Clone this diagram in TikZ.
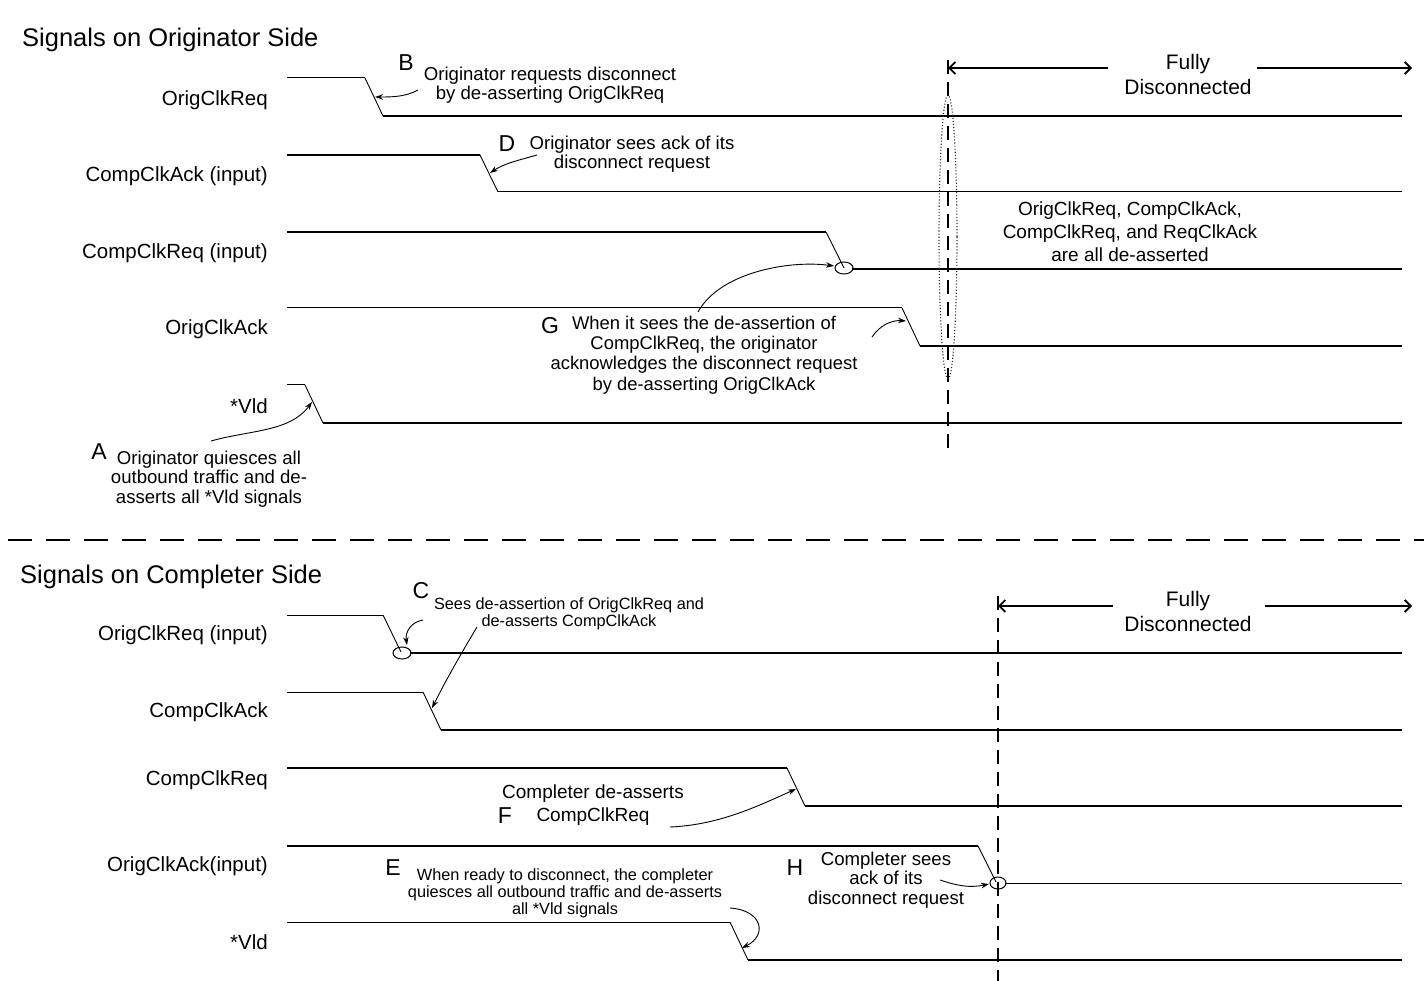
\documentclass[tikz,border=0pt]{standalone}
\usepackage{fontspec}
\setmainfont{Liberation Sans}
\usetikzlibrary{arrows.meta}
\begin{document}
\begin{tikzpicture}[x=1pt,y=-1pt,
  thn/.style={line width=1pt},
  thk/.style={line width=2pt},
  slant/.style={line width=0.9pt},
  lbl/.style={font=\fontsize{20.5}{24}\selectfont, anchor=east, inner sep=0},
  ttl/.style={font=\fontsize{25.5}{28}\selectfont, anchor=west, inner sep=0},
  ann/.style={font=\fontsize{18.6}{19.4}\selectfont, align=center, inner sep=0},
  annline/.style={font=\fontsize{18.4}{19.4}\selectfont, anchor=base, inner sep=0},
  annw/.style={font=\fontsize{19}{23}\selectfont, align=center, inner sep=0},
  sml/.style={font=\fontsize{16.3}{17.2}\selectfont, align=center, inner sep=0},
  letter/.style={font=\fontsize{23}{23}\selectfont, inner sep=0},
  fd/.style={font=\fontsize{21}{25}\selectfont, align=center, inner sep=0},
  callout/.style={-{Stealth[length=8pt,width=5.5pt]}, line width=0.9pt},
  span/.style={line width=1.8pt},
  vdash/.style={line width=2pt, dash pattern=on 14pt off 8pt}
]
\useasboundingbox (0,0) rectangle (1424,981);

% ---------- Titles ----------
\node[ttl] (t1) at (22,40) {Signals on Originator Side};
\node[ttl] (t2) at (20,577) {Signals on Completer Side};

% ---------- Originator side labels ----------
\node[lbl] (l1) at (268,100) {OrigClkReq};
\node[lbl] (l2) at (268,176) {CompClkAck (input)};
\node[lbl] (l3) at (268,253) {CompClkReq (input)};
\node[lbl] (l4) at (268,329) {OrigClkAck};
\node[lbl] (l5) at (268,406) {*Vld};

% ---------- Originator side waveforms ----------
\draw[thn] (287,78) -- (365,78);
\draw[slant] (365,78) -- (383,116);
\draw[thk] (383,116) -- (1402,116);

\draw[thk] (287,155) -- (480,155);
\draw[slant] (480,155) -- (498,192);
\draw[thn] (498,192) -- (1402,192);

\draw[thk] (287,232) -- (826,232);
\draw[slant] (826,232) -- (844,268);
\draw[thk] (852,269) -- (1402,269);
\draw[thn] (844,268) ellipse [x radius=9, y radius=6];

\draw[thn] (287,308) -- (902,308);
\draw[slant] (902,308) -- (920,346);
\draw[thk] (920,346) -- (1402,346);

\draw[thn] (287,385) -- (305,385);
\draw[slant] (305,385) -- (323,423);
\draw[thk] (323,423) -- (1402,423);

% ---------- Completer side labels ----------
\node[lbl] (m1) at (268,635) {OrigClkReq (input)};
\node[lbl] (m2) at (268,712) {CompClkAck};
\node[lbl] (m3) at (268,780) {CompClkReq};
\node[lbl] (m4) at (268,866) {OrigClkAck(input)};
\node[lbl] (m5) at (268,942) {*Vld};

% ---------- Completer side waveforms ----------
\draw[thn] (287,615) -- (383,615);
\draw[slant] (383,615) -- (401,652);
\draw[thk] (410,653) -- (1402,653);
\draw[thn] (402,653) ellipse [x radius=9, y radius=6];

\draw[thn] (287,692) -- (423,692);
\draw[slant] (423,692) -- (441,730);
\draw[thk] (441,730) -- (1402,730);

\draw[thk] (287,768) -- (787,768);
\draw[slant] (787,768) -- (805,806);
\draw[thk] (805,806) -- (1402,806);

\draw[thk] (287,846) -- (978,846);
\draw[slant] (978,846) -- (996,882);
\draw[thn] (1005,883) -- (1402,883);
\draw[thn] (998,883) ellipse [x radius=8, y radius=6];

\draw[thn] (287,922) -- (730,922);
\draw[slant] (730,922) -- (748,960);
\draw[thk] (748,960) -- (1402,960);

% ---------- Separator ----------
\draw[line width=2pt, dash pattern=on 24pt off 14pt] (8,540) -- (1424,540);

% ---------- Vertical dashed lines ----------
\coordinate (v1t) at (948,60);
\coordinate (v1b) at (948,452);
\draw[vdash] (v1t) -- (v1b);
\coordinate (v2t) at (998,596);
\coordinate (v2b) at (998,981);
\draw[vdash] (v2t) -- (v2b);

% dotted ellipse
\draw[line width=1.1pt, dotted, black!85] (948,237) ellipse [x radius=9, y radius=142];

% ---------- Fully Disconnected ----------
\node[fd] (fd1) at (1188,74) {Fully\\Disconnected};
\coordinate (fd1l) at (948,68);
\coordinate (fd1r) at (1412,68);
\draw[span, {Straight Barb[length=6pt,width=12pt]}-] (fd1l) -- (1108,68);
\draw[span, -{Straight Barb[length=6pt,width=12pt]}] (1257,68) -- (fd1r);

\node[fd] (fd2) at (1188,611) {Fully\\Disconnected};
\coordinate (fd2l) at (998,606);
\coordinate (fd2r) at (1412,606);
\draw[span, {Straight Barb[length=6pt,width=12pt]}-] (fd2l) -- (1113,606);
\draw[span, -{Straight Barb[length=6pt,width=12pt]}] (1265,606) -- (fd2r);

\node[annw] (state) at (1130,232) {OrigClkReq, CompClkAck,\\CompClkReq, and ReqClkAck\\are all de-asserted};

% ---------- Annotations ----------
% A
\node[letter] (A) at (99,452) {A};
\node[ann] (Atxt) at (209,479) {Originator quiesces all\\outbound traffic and de-\\asserts all *Vld signals};
\coordinate (As) at (211,441);
\coordinate (At) at (312,402);
\draw[callout] (As) .. controls (250,430) and (290,432) .. (At);

% B
\node[letter] (B) at (406,63) {B};
\node[ann] (Btxt) at (550,85) {Originator requests disconnect\\by de-asserting OrigClkReq};
\coordinate (Bs) at (418,90);
\coordinate (Bt) at (375,97);
\draw[callout] (Bs) .. controls (405,97) and (392,97) .. (Bt);

% D
\node[letter] (D) at (507,144) {D};
\node[ann] (Dtxt) at (632,154) {Originator sees ack of its\\disconnect request};
\coordinate (Ds) at (537,155);
\coordinate (Dt) at (490,173);
\draw[callout] (Ds) .. controls (520,160) and (505,163) .. (Dt);

% G
\node[letter] (G) at (550,326) {G};
\node[annline] (Gtxt1) at (704,330) {When it sees the de-assertion of};
\node[annline] (Gtxt2) at (704,350) {CompClkReq, the originator};
\node[annline] (Gtxt3) at (704,370) {acknowledges the disconnect request};
\node[annline] (Gtxt4) at (704,390) {by de-asserting OrigClkAck};
\coordinate (G1s) at (698,312);
\coordinate (G1t) at (834,266);
\draw[callout] (G1s) .. controls (720,272) and (790,260) .. (G1t);
\coordinate (G2s) at (872,337);
\coordinate (G2t) at (906,321);
\draw[callout] (G2s) .. controls (880,325) and (892,320) .. (G2t);

% C
\node[letter] (C) at (421,591) {C};
\node[sml] (Ctxt) at (569,614) {Sees de-assertion of OrigClkReq and\\de-asserts CompClkAck};
\coordinate (C1s) at (423,620);
\coordinate (C1t) at (407,645);
\draw[callout] (C1s) .. controls (411,622) and (405,632) .. (C1t);
\coordinate (C2s) at (477,627);
\coordinate (C2t) at (432,708);
\draw[callout] (C2s) .. controls (462,652) and (446,680) .. (C2t);

% F
\node[letter] (F) at (505,816) {F};
\node[annw] (Ftxt) at (593,805) {Completer de-asserts\\CompClkReq};
\coordinate (Fs) at (670,827);
\coordinate (Ft) at (796,789);
\draw[callout] (Fs) .. controls (720,825) and (760,805) .. (Ft);

% E
\node[letter] (E) at (393,868) {E};
\node[sml] (Etxt) at (565,893) {When ready to disconnect, the completer\\quiesces all outbound traffic and de-asserts\\all *Vld signals};
\coordinate (Es) at (730,908);
\coordinate (Et) at (742,948);
\draw[callout] (Es) .. controls (762,910) and (768,935) .. (Et);

% H
\node[letter] (H) at (795,868) {H};
\node[ann] (Htxt) at (886,880) {Completer sees\\ack of its\\disconnect request};
\coordinate (Hs) at (940,880);
\coordinate (Ht) at (989,884);
\draw[callout] (Hs) .. controls (958,886) and (970,888) .. (Ht);

\end{tikzpicture}
\end{document}
